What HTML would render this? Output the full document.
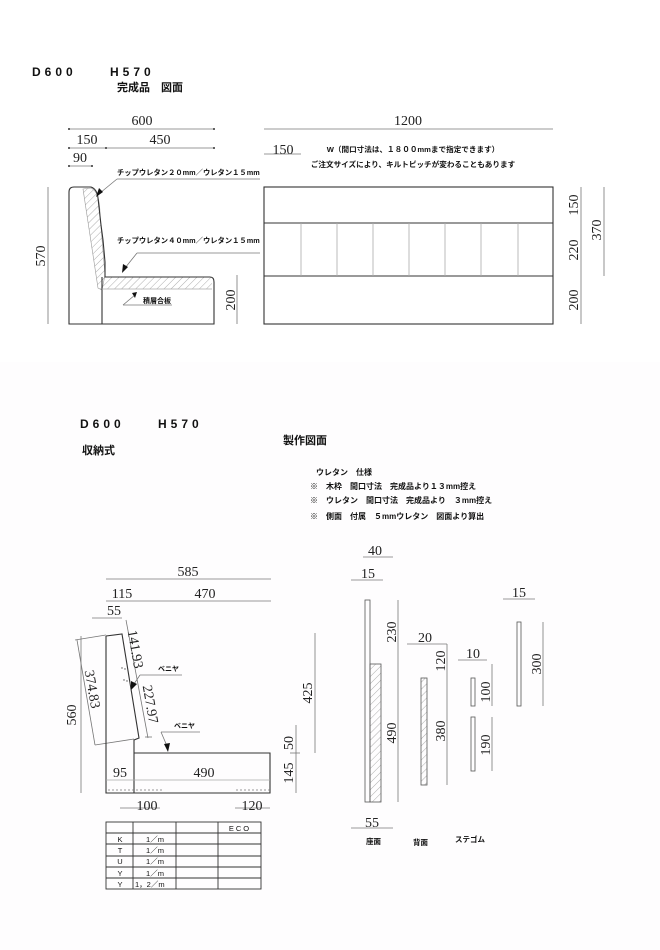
<!DOCTYPE html>
<html><head><meta charset="utf-8"><style>
html,body{margin:0;padding:0;background:#fff}
svg{display:block}
.n{font-family:"Liberation Serif",serif;font-size:14px;fill:#222}
.j{font-family:"Liberation Sans","Noto Sans CJK JP",sans-serif;fill:#111;font-weight:bold}
.d{stroke:#777;stroke-width:0.8;fill:none}
.s{stroke:#333;stroke-width:1.1;fill:none}
.g{stroke:#aaa;stroke-width:0.8;fill:none}
</style></head><body>
<svg width="660" height="950" viewBox="0 0 660 950" xmlns="http://www.w3.org/2000/svg">
<defs>
<pattern id="h" width="5" height="5" patternUnits="userSpaceOnUse" patternTransform="rotate(45)">
<line x1="0" y1="0" x2="0" y2="5" stroke="#999" stroke-width="0.8"/></pattern>
</defs>
<rect x="0" y="362" width="660" height="588" fill="#fefdfe"/>
<!-- TOP headers -->
<text x="32" y="76" class="j" style="font-size:12px;letter-spacing:4px">D600</text>
<text x="110" y="76" class="j" style="font-size:12px;letter-spacing:4px">H570</text>
<text x="117" y="91" class="j" style="font-size:11px">完成品　図面</text>

<!-- side view top -->
<g class="d">
<line x1="69" y1="129" x2="214" y2="129"/>
<line x1="69" y1="148" x2="214" y2="148"/>
<line x1="69" y1="166" x2="92" y2="166"/>
<line x1="48" y1="187" x2="48" y2="324"/>
<line x1="237" y1="275" x2="237" y2="324"/>
</g>
<g fill="#333">
<circle cx="69" cy="129" r="1"/><circle cx="214" cy="129" r="1"/>
<circle cx="69" cy="148" r="1"/><circle cx="106" cy="148" r="1"/><circle cx="214" cy="148" r="1"/>
<circle cx="69" cy="166" r="1"/><circle cx="92" cy="166" r="1"/>
</g>
<text x="142" y="125" class="n" text-anchor="middle">600</text>
<text x="87" y="144" class="n" text-anchor="middle">150</text>
<text x="160" y="144" class="n" text-anchor="middle">450</text>
<text x="80" y="162" class="n" text-anchor="middle">90</text>
<text class="n" text-anchor="middle" transform="translate(45,256) rotate(-90)">570</text>
<text class="n" text-anchor="middle" transform="translate(235,300) rotate(-90)">200</text>

<path d="M83,189 L91,188 Q100,192 100,215 L105,275 L102,290 L98,288 Z" fill="url(#h)" stroke="#999" stroke-width="0.6"/>
<rect x="102" y="277" width="110" height="12" fill="url(#h)"/>
<path class="s" d="M69,324 L69,192 Q69,187 74,187 L91,187 Q97,189 98,198 L101,225 L103,240 L105,262 L105,277 L210,277 Q214,277 214,282 L214,324 Z"/>
<line class="s" x1="102" y1="277" x2="102" y2="324"/>
<line class="g" x1="102" y1="289" x2="212" y2="289"/>

<line class="d" x1="117" y1="179" x2="260" y2="179"/>
<line class="d" x1="117" y1="179" x2="100" y2="193"/>
<polygon points="96,197 99,188 103,192" fill="#111"/>
<text x="117" y="175" class="j" style="font-size:7.3px">チップウレタン２０mm／ウレタン１５mm</text>
<line class="d" x1="137" y1="253" x2="260" y2="253"/>
<line class="d" x1="137" y1="253" x2="125" y2="268"/>
<polygon points="122,273 123,264 128,267" fill="#111"/>
<text x="117" y="243" class="j" style="font-size:7.3px">チップウレタン４０mm／ウレタン１５mm</text>
<line class="d" x1="123" y1="305" x2="172" y2="305"/>
<line class="d" x1="123" y1="305" x2="135" y2="295"/>
<polygon points="137,292 132,293 135,298" fill="#111"/>
<text x="143" y="303" class="j" style="font-size:7px">積層合板</text>

<!-- front view -->
<rect class="s" x="264" y="187" width="289" height="137"/>
<line class="s" x1="264" y1="223" x2="553" y2="223"/>
<line class="s" x1="264" y1="276" x2="553" y2="276"/>
<g class="g">
<line x1="301" y1="223" x2="301" y2="276"/><line x1="337" y1="223" x2="337" y2="276"/>
<line x1="373" y1="223" x2="373" y2="276"/><line x1="409" y1="223" x2="409" y2="276"/>
<line x1="445" y1="223" x2="445" y2="276"/><line x1="481" y1="223" x2="481" y2="276"/>
<line x1="518" y1="223" x2="518" y2="276"/>
</g>
<g class="d">
<line x1="264" y1="129" x2="553" y2="129"/>
<line x1="264" y1="154" x2="301" y2="154"/>
<line x1="581" y1="187" x2="581" y2="324"/>
<line x1="604" y1="187" x2="604" y2="276"/>
</g>
<text x="408" y="125" class="n" text-anchor="middle">1200</text>
<text x="283" y="154" class="n" text-anchor="middle">150</text>
<text x="413" y="152" class="j" style="font-size:7.6px" text-anchor="middle">W（間口寸法は、１８００mmまで指定できます）</text>
<text x="413" y="167" class="j" style="font-size:7.6px" text-anchor="middle">ご注文サイズにより、キルトピッチが変わることもあります</text>
<text class="n" text-anchor="middle" transform="translate(578,205) rotate(-90)">150</text>
<text class="n" text-anchor="middle" transform="translate(578,250) rotate(-90)">220</text>
<text class="n" text-anchor="middle" transform="translate(578,300) rotate(-90)">200</text>
<text class="n" text-anchor="middle" transform="translate(601,230) rotate(-90)">370</text>

<!-- BOTTOM headers -->
<text x="80" y="428" class="j" style="font-size:12px;letter-spacing:4px">D600</text>
<text x="158" y="428" class="j" style="font-size:12px;letter-spacing:4px">H570</text>
<text x="82" y="454" class="j" style="font-size:11px">収納式</text>
<text x="283" y="444" class="j" style="font-size:11px">製作図面</text>
<text x="316" y="475" class="j" style="font-size:8px">ウレタン　仕様</text>
<text x="310" y="489" class="j" style="font-size:8px">※　木枠　間口寸法　完成品より１３mm控え</text>
<text x="310" y="503" class="j" style="font-size:8px">※　ウレタン　間口寸法　完成品より　３mm控え</text>
<text x="310" y="519" class="j" style="font-size:8px">※　側面　付属　５mmウレタン　図面より算出</text>

<!-- storage side -->
<g class="d">
<line x1="106" y1="579" x2="271" y2="579"/>
<line x1="106" y1="601" x2="271" y2="601"/>
<line x1="92" y1="618" x2="122" y2="618"/>
<line x1="77" y1="640" x2="95" y2="745"/>
<line x1="75" y1="640" x2="106" y2="635"/>
<line x1="95" y1="745" x2="134" y2="739"/>
<line x1="126" y1="620" x2="148" y2="738"/>
<line x1="145" y1="737" x2="152" y2="737"/>
<line x1="81" y1="636" x2="81" y2="793"/>
<line x1="315" y1="633" x2="315" y2="753"/>
<line x1="296" y1="725" x2="296" y2="793"/>
<line x1="290" y1="753" x2="300" y2="753"/>
<line x1="120" y1="808" x2="160" y2="808"/>
<line x1="235" y1="808" x2="270" y2="808"/>
</g>
<path class="s" d="M106,636 L122,634 L139,738 L134,740 L134,793 M106,636 L106,793 L270,793 L270,753 L134,753"/>
<line class="g" x1="106" y1="780" x2="270" y2="780"/>
<line x1="108" y1="790" x2="162" y2="790" stroke="#777" stroke-width="0.8" stroke-dasharray="2,2"/>
<line x1="236" y1="790" x2="270" y2="790" stroke="#777" stroke-width="0.8" stroke-dasharray="2,2"/>
<g fill="#555"><circle cx="122" cy="668" r="0.7"/><circle cx="125" cy="669" r="0.7"/><circle cx="124" cy="680" r="0.7"/><circle cx="127" cy="681" r="0.7"/></g>
<text x="188" y="576" class="n" text-anchor="middle">585</text>
<text x="122" y="598" class="n" text-anchor="middle">115</text>
<text x="205" y="598" class="n" text-anchor="middle">470</text>
<text x="114" y="615" class="n" text-anchor="middle">55</text>
<text class="n" text-anchor="middle" transform="translate(88,690) rotate(80)">374.83</text>
<text class="n" text-anchor="middle" transform="translate(131,650) rotate(80)">141.93</text>
<text class="n" text-anchor="middle" transform="translate(146,705) rotate(80)">227.97</text>
<text class="n" text-anchor="middle" transform="translate(76,715) rotate(-90)">560</text>
<text class="n" text-anchor="middle" transform="translate(312,693) rotate(-90)">425</text>
<text class="n" text-anchor="middle" transform="translate(293,743) rotate(-90)">50</text>
<text class="n" text-anchor="middle" transform="translate(293,773) rotate(-90)">145</text>
<text x="120" y="777" class="n" text-anchor="middle">95</text>
<text x="204" y="777" class="n" text-anchor="middle">490</text>
<text x="147" y="810" class="n" text-anchor="middle">100</text>
<text x="252" y="810" class="n" text-anchor="middle">120</text>
<line class="d" x1="140" y1="675" x2="182" y2="675"/>
<line class="d" x1="140" y1="675" x2="134" y2="684"/>
<polygon points="131,690 131,681 137,684" fill="#111"/>
<text x="158" y="671" class="j" style="font-size:7px">ベニヤ</text>
<line class="d" x1="161" y1="732" x2="200" y2="732"/>
<line class="d" x1="161" y1="732" x2="167" y2="746"/>
<polygon points="168,752 164,744 170,743" fill="#111"/>
<text x="174" y="728" class="j" style="font-size:7px">ベニヤ</text>

<!-- table -->
<g stroke="#333" stroke-width="0.9" fill="none">
<rect x="106" y="822" width="155" height="67"/>
<line x1="133" y1="822" x2="133" y2="889"/><line x1="176" y1="822" x2="176" y2="889"/><line x1="218" y1="822" x2="218" y2="889"/>
<line x1="106" y1="833" x2="261" y2="833"/><line x1="106" y1="844" x2="261" y2="844"/><line x1="106" y1="856" x2="261" y2="856"/><line x1="106" y1="867" x2="261" y2="867"/><line x1="106" y1="878" x2="261" y2="878"/>
</g>
<g class="j" style="font-size:7.5px;font-weight:normal">
<text x="240" y="831" text-anchor="middle" style="letter-spacing:2px">ECO</text>
<text x="120" y="842" text-anchor="middle">K</text><text x="155" y="842" text-anchor="middle">1／m</text>
<text x="120" y="853" text-anchor="middle">T</text><text x="155" y="853" text-anchor="middle">1／m</text>
<text x="120" y="864" text-anchor="middle">U</text><text x="155" y="864" text-anchor="middle">1／m</text>
<text x="120" y="876" text-anchor="middle">Y</text><text x="155" y="876" text-anchor="middle">1／m</text>
<text x="120" y="887" text-anchor="middle">Y</text><text x="135" y="887">1，2／m</text>
</g>

<!-- parts -->
<g class="d">
<line x1="363" y1="557" x2="393" y2="557"/>
<line x1="351" y1="580" x2="383" y2="580"/>
<line x1="398" y1="600" x2="398" y2="802"/>
<line x1="351" y1="828" x2="393" y2="828"/>
<line x1="407" y1="644" x2="447" y2="644"/>
<line x1="447" y1="644" x2="447" y2="785"/>
<line x1="458" y1="660" x2="487" y2="660"/>
<line x1="492" y1="664" x2="492" y2="706"/>
<line x1="492" y1="717" x2="492" y2="771"/>
<line x1="503" y1="599" x2="535" y2="599"/>
<line x1="543" y1="622" x2="543" y2="706"/>
</g>
<rect x="365" y="600" width="5" height="202" fill="none" stroke="#555" stroke-width="0.8"/>
<rect x="370" y="664" width="11" height="138" fill="url(#h)" stroke="#555" stroke-width="0.8"/>
<rect x="421" y="678" width="6" height="107" fill="url(#h)" stroke="#555" stroke-width="0.8"/>
<rect x="471" y="678" width="4" height="28" fill="none" stroke="#555" stroke-width="0.8"/>
<rect x="471" y="717" width="4" height="54" fill="none" stroke="#555" stroke-width="0.8"/>
<rect x="517" y="622" width="4" height="84" fill="none" stroke="#555" stroke-width="0.8"/>
<text x="375" y="555" class="n" text-anchor="middle">40</text>
<text x="368" y="578" class="n" text-anchor="middle">15</text>
<text class="n" text-anchor="middle" transform="translate(396,632) rotate(-90)">230</text>
<text class="n" text-anchor="middle" transform="translate(396,733) rotate(-90)">490</text>
<text x="372" y="827" class="n" text-anchor="middle">55</text>
<text x="425" y="642" class="n" text-anchor="middle">20</text>
<text class="n" text-anchor="middle" transform="translate(445,661) rotate(-90)">120</text>
<text class="n" text-anchor="middle" transform="translate(445,731) rotate(-90)">380</text>
<text x="473" y="658" class="n" text-anchor="middle">10</text>
<text class="n" text-anchor="middle" transform="translate(490,692) rotate(-90)">100</text>
<text class="n" text-anchor="middle" transform="translate(490,745) rotate(-90)">190</text>
<text x="519" y="597" class="n" text-anchor="middle">15</text>
<text class="n" text-anchor="middle" transform="translate(541,664) rotate(-90)">300</text>
<text x="366" y="844" class="j" style="font-size:7.5px">座面</text>
<text x="413" y="845" class="j" style="font-size:7.5px">背面</text>
<text x="455" y="842" class="j" style="font-size:7.5px">ステゴム</text>
</svg>
</body></html>
